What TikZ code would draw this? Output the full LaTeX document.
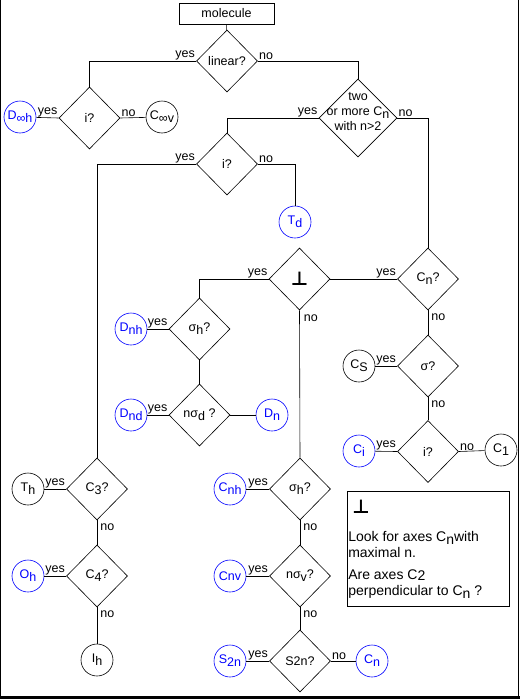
\documentclass[tikz,border=0pt]{standalone}
\usepackage{fontspec}
\setmainfont{Liberation Sans}
\newfontfamily\symfont{DejaVu Sans}
\usepackage{tikz}
\usetikzlibrary{shapes.geometric}
\usetikzlibrary{positioning}
\newcommand{\lowsub}[1]{\raisebox{-3pt}{#1}}
\newcommand{\perpsign}{{\symfont\bfseries\fontsize{19}{19}\selectfont ⊥}}

\begin{document}
\begin{tikzpicture}[x=1pt, y=1pt, line width=0.6pt,
	font=\fontsize{12.5}{15}\selectfont,
	hv/.style={to path={-| (\tikztotarget) \tikztonodes}}]
	\useasboundingbox (0,0) rectangle (520,-699);
	% frame
	\draw (0.5,0) -- (0.5,-696);
	\draw (518.5,0) -- (518.5,-696);
	\fill (0,-695.5) rectangle (520,-699);

	\node[draw, minimum width=95, minimum height=21, inner sep=0pt] (molecule) at (226.5,-13.5) {molecule};

	\begin{scope}[every node/.style={diamond, draw, aspect=1, inner sep=0pt, minimum width=61, minimum height=62}]
		\node (linear) at (227,-61) {linear?};
		\node (ilin) at (89.5,-118) {i?};
		\node[minimum width=78, minimum height=78] (twomore) at (358,-118) {};
		\node (isym) at (227,-164) {i?};
		\node (perp) at (299.5,-279) {\perpsign};
		\node (cnq) at (428,-279) {C\lowsub{n}?};
		\node (sigq) at (428,-366) {σ?};
		\node (iq) at (428,-451.5) {i?};
		\node (sighq) at (199.5,-329) {σ\lowsub{h}?};
		\node (nsigdq) at (199.5,-415) {nσ\lowsub{d} ?};
		\node (cthree) at (97,-489) {C\lowsub{3}?};
		\node (cfour) at (97,-576) {C\lowsub{4}?};
		\node (sighb) at (300,-489) {σ\lowsub{h}?};
		\node (nsigvq) at (300,-576) {nσ\lowsub{v}?};
		\node (stwon) at (300,-661) {S2n?};
	\end{scope}
	\node[align=center] (twotext) at (358,-112) {two\\or more C\lowsub{n}\\with n>2};

	\begin{scope}[every node/.style={circle, draw, minimum size=32, inner sep=0pt}]
		\node[draw=blue, text=blue] (dooh) at (20,-117) {D\lowsub{∞h}};
		\node (coov) at (162,-117) {C\lowsub{∞v}};
		\node[draw=blue, text=blue] (td) at (295,-222) {T\lowsub{d}};
		\node (cs) at (359,-366) {C\lowsub{S}};
		\node[draw=blue, text=blue] (ci) at (359,-451) {C\lowsub{i}};
		\node (cone) at (501,-450) {C\lowsub{1}};
		\node[draw=blue, text=blue] (dnh) at (131,-329) {D\lowsub{nh}};
		\node[draw=blue, text=blue] (dnd) at (131,-415) {D\lowsub{nd}};
		\node[draw=blue, text=blue] (dn) at (272,-415) {D\lowsub{n}};
		\node (th) at (28,-489) {T\lowsub{h}};
		\node[draw=blue, text=blue] (oh) at (28,-576) {O\lowsub{h}};
		\node (ih) at (97,-660) {I\lowsub{h}};
		\node[draw=blue, text=blue] (cnh) at (230,-489) {C\lowsub{nh}};
		\node[draw=blue, text=blue] (cnv) at (230,-576) {Cnv};
		\node[draw=blue, text=blue] (s2n) at (230,-661) {S\lowsub{2n}};
		\node[draw=blue, text=blue] (cn) at (372,-661) {C\lowsub{n}};
	\end{scope}

	\begin{scope}[every node/.style={inner sep=1pt},
	              every edge/.style={draw=black}]
		\path (molecule) edge (linear);
		\path (linear.west) edge[hv] node[pos=0, above left] {yes} (ilin.north);
		\path (linear.east) edge[hv] node[pos=0, above right] {no} (twomore.north);
		\path (ilin.west) edge node[pos=0, above left] {yes} (dooh);
		\path (ilin.east) edge node[pos=0, above right] {no} (coov);
		\path (twomore.west) edge[hv] node[pos=0, above left] {yes} (isym.north);
		\path (twomore.east) edge[hv] node[pos=0, above right] {no} (cnq.north);
		\path (isym.west) edge[hv] node[pos=0, above left] {yes} (cthree.north);
		\path (isym.east) edge[hv] node[pos=0, above right] {no} (td.north);
		\path (cnq.west) edge node[pos=0, above left] {yes} (perp.east);
		\path (cnq.south) edge node[pos=0, below right, inner sep=3pt] {no} (sigq.north);
		\path (sigq.west) edge node[pos=0, above left] {yes} (cs);
		\path (sigq.south) edge node[pos=0, below right, inner sep=3pt] {no} (iq.north);
		\path (iq.west) edge node[pos=0, above left] {yes} (ci);
		\path (iq.east) edge node[pos=0, above right] {no} (cone);
		\path (perp.west) edge[hv] node[pos=0, above left] {yes} (sighq.north);
		\path (perp.south) edge node[pos=0, below right, inner sep=4pt] {no} (sighb.north);
		\path (sighq.west) edge node[pos=0, above left] {yes} (dnh);
		\path (sighq.south) edge (nsigdq.north);
		\path (nsigdq.west) edge node[pos=0, above left] {yes} (dnd);
		\path (nsigdq.east) edge (dn);
		\path (cthree.west) edge node[pos=0, above left] {yes} (th);
		\path (cthree.south) edge node[pos=0, below right, inner sep=3pt] {no} (cfour.north);
		\path (cfour.west) edge node[pos=0, above left] {yes} (oh);
		\path (cfour.south) edge node[pos=0, below right, inner sep=3pt] {no} (ih);
		\path (sighb.west) edge node[pos=0, above left] {yes} (cnh);
		\path (sighb.south) edge node[pos=0, below right, inner sep=3pt] {no} (nsigvq.north);
		\path (nsigvq.west) edge node[pos=0, above left] {yes} (cnv);
		\path (nsigvq.south) edge node[pos=0, below right, inner sep=3pt] {no} (stwon.north);
		\path (stwon.west) edge node[pos=0, above left] {yes} (s2n);
		\path (stwon.east) edge node[pos=0, above right] {no} (cn);
	\end{scope}

	% legend
	\node[draw, minimum width=162, minimum height=115, inner sep=0pt] (legend) at (428,-548.5) {};
	\node (legperp) at (361,-507) {\perpsign};
	\node[anchor=north west, align=left, inner sep=0pt, font=\fontsize{14}{16}\selectfont] (legtext) at (348,-531) {Look for axes C\lowsub{n}with\\maximal n.\\[6pt]Are axes C\raisebox{-1pt}{2}\\perpendicular to C\lowsub{n} ?};
\end{tikzpicture}
\end{document}
